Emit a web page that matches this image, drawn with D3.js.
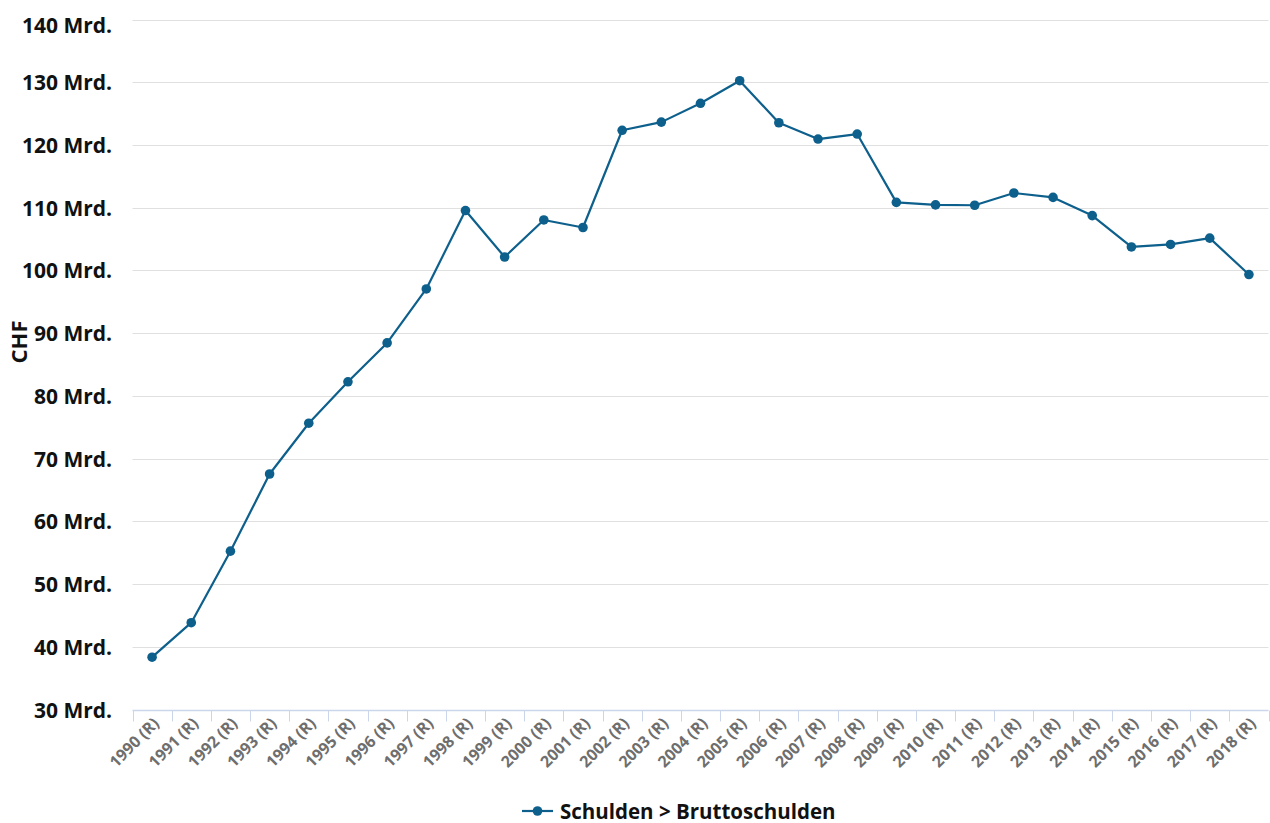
<!DOCTYPE html>
<html>
<head>
<meta charset="utf-8">
<script src="https://cdn.jsdelivr.net/npm/d3@7/dist/d3.min.js"></script>
<style>
  html, body { margin: 0; padding: 0; background: #fff; }
  svg { display: block; font-family: "Open Sans", "DejaVu Sans", sans-serif; }
</style>
</head>
<body>
<svg id="chart" width="1270" height="823"></svg>
<script>
// Gross debt (Bruttoschulden), CHF billions
const years = ["1990 (R)","1991 (R)","1992 (R)","1993 (R)","1994 (R)","1995 (R)","1996 (R)","1997 (R)","1998 (R)","1999 (R)",
               "2000 (R)","2001 (R)","2002 (R)","2003 (R)","2004 (R)","2005 (R)","2006 (R)","2007 (R)","2008 (R)","2009 (R)",
               "2010 (R)","2011 (R)","2012 (R)","2013 (R)","2014 (R)","2015 (R)","2016 (R)","2017 (R)","2018 (R)"];
const bruttoschulden = [38.5, 44.0, 55.4, 67.7, 75.8, 82.4, 88.6, 97.2, 109.7, 102.3,
                        108.2, 107.0, 122.5, 123.8, 126.8, 130.4, 123.7, 121.1, 121.9, 111.0,
                        110.6, 110.55, 112.5, 111.8, 108.9, 103.9, 104.3, 105.3, 99.5];
const yTicks = [30, 40, 50, 60, 70, 80, 90, 100, 110, 120, 130, 140];
const seriesName = "Schulden > Bruttoschulden";
const axisTitle = "CHF";

const svg = d3.select("#chart");
const plotLeft = 132.5, plotRight = 1268.5, plotTop = 20.5, plotBottom = 710.5;
const lineColor = "#0d5f8c";

const x = d3.scaleBand().domain(years).range([plotLeft, plotRight]);
const y = d3.scaleLinear().domain([30, 140]).range([plotBottom, plotTop]);

// horizontal grid
svg.append("g")
  .selectAll("line")
  .data(yTicks.filter(t => t > 30))
  .join("line")
  .attr("x1", plotLeft).attr("x2", plotRight)
  .attr("y1", d => Math.round(y(d)) - 0.5).attr("y2", d => Math.round(y(d)) - 0.5)
  .attr("stroke", "#e0e0e0").attr("stroke-width", 1);

// y labels (the topmost one is nudged down to stay inside the frame)
const yMax = d3.max(yTicks);
svg.append("g")
  .selectAll("text")
  .data(yTicks)
  .join("text")
  .attr("x", 112).attr("y", d => y(d) + (d === yMax ? 12 : 7))
  .attr("text-anchor", "end")
  .attr("font-size", 21).attr("font-weight", 700).attr("fill", "#111")
  .text(d => d + " Mrd.");

// y axis title
svg.append("text")
  .attr("transform", `translate(27,342) rotate(-90)`)
  .attr("text-anchor", "middle")
  .attr("font-size", 22).attr("font-weight", 700).attr("fill", "#111")
  .text(axisTitle);

// x axis line + ticks at category boundaries
const xAxis = svg.append("g");
xAxis.append("line")
  .attr("x1", plotLeft).attr("x2", plotRight)
  .attr("y1", plotBottom).attr("y2", plotBottom)
  .attr("stroke", "#ccd6eb").attr("stroke-width", 1.5);
const bounds = years.map(d => x(d)).concat([plotRight]);
xAxis.selectAll("line.tick")
  .data(bounds)
  .join("line")
  .attr("class", "tick")
  .attr("x1", d => Math.round(d) + 0.5).attr("x2", d => Math.round(d) + 0.5)
  .attr("y1", plotBottom).attr("y2", plotBottom + 11)
  .attr("stroke", "#ccd6eb").attr("stroke-width", 1);

// rotated category labels
xAxis.selectAll("text")
  .data(years)
  .join("text")
  .attr("transform", d => `translate(${x(d) + x.bandwidth() / 2 + 8},${plotBottom + 14}) rotate(-45)`)
  .attr("text-anchor", "end")
  .attr("font-size", 16).attr("font-weight", 700).attr("fill", "#6e6e6e")
  .text(d => d);

// series line
const cx = d => x(d) + x.bandwidth() / 2;
const line = d3.line().x((v, i) => cx(years[i])).y(v => y(v));
svg.append("path")
  .datum(bruttoschulden)
  .attr("d", line)
  .attr("fill", "none")
  .attr("stroke", lineColor).attr("stroke-width", 2.2)
  .attr("stroke-linejoin", "round");

svg.append("g")
  .selectAll("circle")
  .data(bruttoschulden)
  .join("circle")
  .attr("cx", (v, i) => cx(years[i]))
  .attr("cy", v => y(v))
  .attr("r", 4.8)
  .attr("fill", lineColor);

// legend
const legend = svg.append("g").attr("transform", "translate(522,811)");
legend.append("line").attr("x1", 0).attr("x2", 31).attr("y1", 0).attr("y2", 0)
  .attr("stroke", lineColor).attr("stroke-width", 2.2);
legend.append("circle").attr("cx", 15.5).attr("cy", 0).attr("r", 4.8).attr("fill", lineColor);
legend.append("text").attr("x", 38).attr("y", 7.5)
  .attr("font-size", 20.5).attr("font-weight", 700).attr("fill", "#111")
  .text(seriesName);
</script>
</body>
</html>
